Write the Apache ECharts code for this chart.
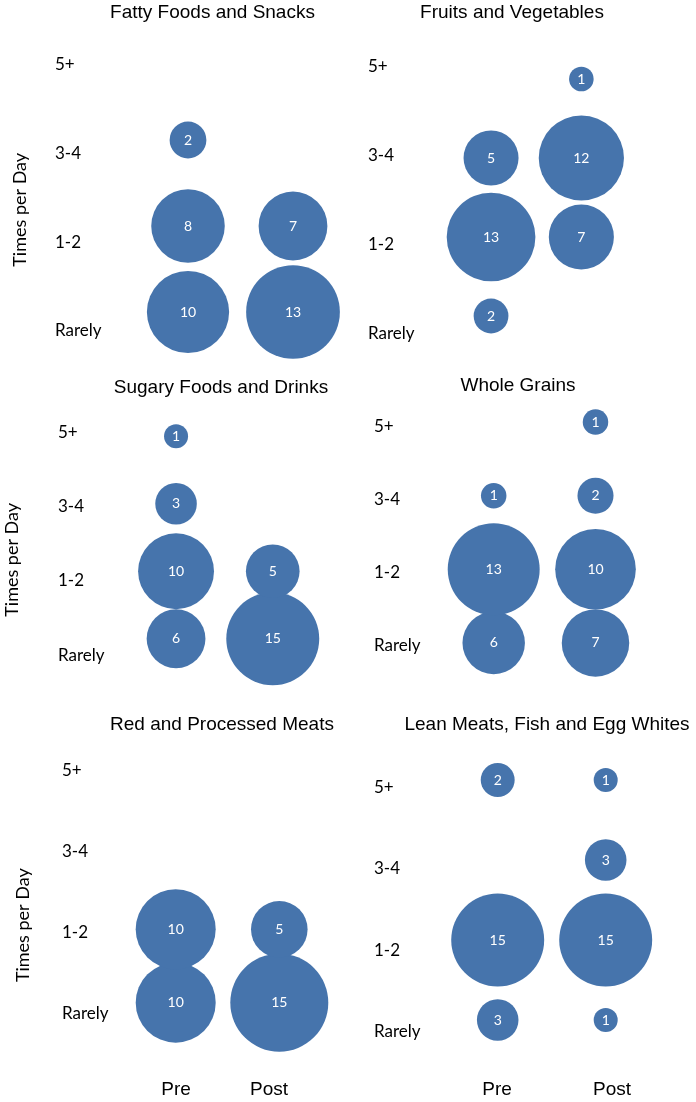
<!DOCTYPE html>
<html>
<head>
<meta charset="utf-8">
<script src="https://cdn.jsdelivr.net/npm/echarts@6/dist/echarts.min.js"></script>
<style>
html,body{margin:0;padding:0;background:#ffffff;}
#chart{width:696px;height:1102px;}
</style>
</head>
<body>
<div id="chart"></div>
<script>
// ---- Data ----
const frequencyLabels = ['Rarely', '1-2', '3-4', '5+'];   // bottom -> top
const timepointLabels = ['Pre', 'Post'];
const yAxisTitle = 'Times per Day';
const panelTitles = [
  'Fatty Foods and Snacks',
  'Fruits and Vegetables',
  'Sugary Foods and Drinks',
  'Whole Grains',
  'Red and Processed Meats',
  'Lean Meats, Fish and Egg Whites'
];
// counts per frequency, order: Rarely, 1-2, 3-4, 5+ (0 = no bubble)
const fattyPre   = [10, 8, 2, 0];
const fattyPost  = [13, 7, 0, 0];
const fruitsPre  = [2, 13, 5, 0];
const fruitsPost = [0, 7, 12, 1];
const sugaryPre  = [6, 10, 3, 1];
const sugaryPost = [15, 5, 0, 0];
const grainsPre  = [6, 13, 1, 0];
const grainsPost = [7, 10, 2, 1];
const redPre     = [10, 10, 0, 0];
const redPost    = [15, 5, 0, 0];
const leanPre    = [3, 15, 0, 2];
const leanPost   = [1, 15, 3, 1];

const panelPre  = [fattyPre, fruitsPre, sugaryPre, grainsPre, redPre, leanPre];
const panelPost = [fattyPost, fruitsPost, sugaryPost, grainsPost, redPost, leanPost];

// ---- Layout / style ----
const BLUE = '#4674ac';
const layout = [
  {bub:{left:135.5,top:11,width:210,height:344},  lab:{left:55, top:20.4,height:354.8}, title:[212.5,3],  k:26,   name:{gap:26,pad:24}, xl:null},
  {bub:{left:445.9,top:39.5,width:180.6,height:316}, lab:{left:368,top:21.6,height:356.4}, title:[512,3], k:24.6, name:null, xl:null},
  {bub:{left:127.7,top:402.5,width:193.4,height:270}, lab:{left:58, top:395.6,height:296.5}, title:[221,378], k:24, name:{gap:37,pad:32}, xl:null},
  {bub:{left:442.8,top:385.3,width:203.6,height:294.4}, lab:{left:374,top:389.5,height:293}, title:[518,376], k:25.5, name:null, xl:null},
  {bub:{left:123.9,top:746,width:207.2,height:293.3}, lab:{left:62, top:730,height:324.4}, title:[222,715], k:25.3, name:{gap:30,pad:66}, xl:{left:129.5,width:186}},
  {bub:{left:443.7,top:740,width:216,height:320},   lab:{left:374,top:746.3,height:326.4}, title:[547,715], k:24, name:null, xl:{left:439.5,width:230}}
];

const grids = [], xAxes = [], yAxes = [], series = [], titles = [];
layout.forEach((L, i) => {
  const gb = grids.length;
  grids.push({left:L.bub.left, top:L.bub.top, width:L.bub.width, height:L.bub.height});
  const gl = grids.length;
  grids.push({left:L.lab.left, top:L.lab.top, width:40, height:L.lab.height});

  xAxes.push({
    gridIndex: gb, type:'category', data: timepointLabels, boundaryGap:true,
    axisLine:{show:false}, axisTick:{show:false}, splitLine:{show:false},
    axisLabel:{show:false}
  });
  yAxes.push({
    gridIndex: gb, type:'category', data: frequencyLabels, boundaryGap:true,
    axisLine:{show:false}, axisTick:{show:false}, splitLine:{show:false},
    axisLabel:{show:false}
  });
  xAxes.push({gridIndex: gl, type:'value', show:false});
  const ly = {
    gridIndex: gl, type:'category', data: frequencyLabels, boundaryGap:true,
    axisLine:{show:false}, axisTick:{show:false}, splitLine:{show:false},
    axisLabel:{inside:true, margin:0, color:'#000', fontFamily:'Lato, sans-serif', fontSize:17}
  };
  if (L.name) {
    Object.assign(ly, {
      name: yAxisTitle, nameLocation:'middle', nameRotate:90, nameGap:L.name.gap,
      nameTextStyle:{color:'#000', fontFamily:'Lato, sans-serif', fontSize:18, padding:[0, L.name.pad, 0, 0]}
    });
  }
  yAxes.push(ly);

  titles.push({
    text: panelTitles[i], left: L.title[0], top: L.title[1], textAlign:'center', padding:0,
    textStyle:{color:'#000', fontFamily:'Liberation Sans, Arial, sans-serif', fontSize:19, fontWeight:'normal'}
  });

  const data = [];
  [panelPre[i], panelPost[i]].forEach((arr, xi) => {
    arr.forEach((v, yi) => { if (v > 0) data.push([xi, yi, v]); });
  });
  const k = L.k;
  series.push({
    type:'scatter', xAxisIndex: 2*i, yAxisIndex: 2*i, data,
    symbolSize: d => k * Math.sqrt(d[2]),
    itemStyle:{color: BLUE, opacity:1},
    label:{show:true, position:'inside', formatter: p => p.value[2], color:'#fff',
           fontFamily:'Lato, sans-serif', fontSize:14},
    emphasis:{disabled:true}, silent:true
  });
});

// bottom-row Pre / Post axis labels
layout.forEach(L => {
  if (!L.xl) return;
  const g = grids.length;
  grids.push({left:L.xl.left, top:1060, width:L.xl.width, height:10});
  xAxes.push({
    gridIndex: g, type:'category', data: timepointLabels, boundaryGap:true,
    axisLine:{show:false}, axisTick:{show:false}, splitLine:{show:false},
    axisLabel:{margin:10, color:'#000', fontFamily:'Liberation Sans, Arial, sans-serif', fontSize:19}
  });
  yAxes.push({gridIndex: g, type:'value', show:false});
});

const chart = echarts.init(document.getElementById('chart'), null, {renderer:'canvas'});
chart.setOption({
  backgroundColor:'#ffffff',
  animation:false,
  title: titles,
  grid: grids,
  xAxis: xAxes,
  yAxis: yAxes,
  series
});
</script>
</body>
</html>
